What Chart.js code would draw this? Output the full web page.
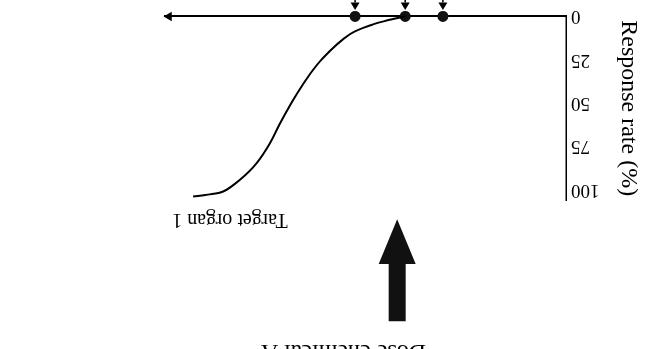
<!DOCTYPE html>
<html>
<head>
<meta charset="utf-8">
<script src="https://cdn.jsdelivr.net/npm/chart.js@4.4.1/dist/chart.umd.min.js"></script>
<style>
  html, body { margin: 0; padding: 0; background: #fff; }
  #wrap { width: 653px; height: 349px; transform: rotate(180deg); }
</style>
</head>
<body>
<div id="wrap"><canvas id="doseChart" width="653" height="349"></canvas></div>
<script>
// dose-response curve for target organ 1 (dose in arbitrary units, 0-100 along the axis)
const doseLevels = [40.1, 43.9, 48.1, 53.9, 60.6, 63.8, 67.1, 71.3, 73.8, 77.1, 81.3, 85.5, 89.3, 93];
const responseRate = [0, 1.9, 4.6, 10.3, 24, 33.1, 44.6, 61.7, 73.1, 84.6, 94.3, 101.1, 102.9, 104];

// reference doses marked on the dose axis, each with a small pointer below it
const markedDoses = [30.7, 40.1, 52.6];
const markerPointer = -6.3;

const responseTicks = [0, 25, 50, 75, 100];

// exposure arrow for chemical A
const exposureDose = 42.1;
const exposureArrow = [176, 142.9, 117.1]; // tail, head base, tip

const curveLabel = 'Target organ 1';
const curveLabelAt = [83.8, 117.4];
const doseLabel = 'Dose chemical A';
const doseLabelAt = [55.5, 189.8];

const serif = "'Liberation Serif', 'Times New Roman', serif";

const annotations = {
  id: 'annotations',
  afterDatasetsDraw(chart) {
    const ctx = chart.ctx;
    const x = chart.scales.x, y = chart.scales.y;
    ctx.save();

    // pointers under the marked doses
    ctx.fillStyle = '#000';
    ctx.strokeStyle = '#000';
    ctx.lineWidth = 1.5;
    markedDoses.forEach(d => {
      const px = x.getPixelForValue(d);
      const py = y.getPixelForValue(markerPointer);
      ctx.beginPath();
      ctx.moveTo(px, py - 4.5);
      ctx.lineTo(px + 4.5, py + 3);
      ctx.lineTo(px - 4.5, py + 3);
      ctx.closePath();
      ctx.fill();
      ctx.beginPath();
      ctx.moveTo(px, py + 3);
      ctx.lineTo(px, py + 7);
      ctx.stroke();
    });

    // big exposure arrow
    const ax = x.getPixelForValue(exposureDose);
    const yTail = y.getPixelForValue(exposureArrow[0]);
    const yBase = y.getPixelForValue(exposureArrow[1]);
    const yTip = y.getPixelForValue(exposureArrow[2]);
    ctx.fillStyle = '#111';
    ctx.beginPath();
    ctx.moveTo(ax - 8.5, yTail);
    ctx.lineTo(ax + 8.5, yTail);
    ctx.lineTo(ax + 8.5, yBase);
    ctx.lineTo(ax + 18.5, yBase);
    ctx.lineTo(ax, yTip);
    ctx.lineTo(ax - 18.5, yBase);
    ctx.lineTo(ax - 8.5, yBase);
    ctx.closePath();
    ctx.fill();

    ctx.fillStyle = '#000';
    ctx.textAlign = 'center';
    ctx.textBaseline = 'middle';
    ctx.font = '20px ' + serif;
    ctx.fillText(curveLabel, x.getPixelForValue(curveLabelAt[0]), y.getPixelForValue(curveLabelAt[1]));

    ctx.textBaseline = 'alphabetic';
    ctx.font = '24px ' + serif;
    ctx.fillText(doseLabel, x.getPixelForValue(doseLabelAt[0]), y.getPixelForValue(doseLabelAt[1]));
    ctx.restore();
  }
};

new Chart(document.getElementById('doseChart'), {
  type: 'line',
  data: {
    datasets: [
      {
        label: curveLabel,
        data: doseLevels.map((d, i) => ({ x: d, y: responseRate[i] })),
        borderColor: '#000',
        borderWidth: 2,
        pointRadius: 0,
        cubicInterpolationMode: 'monotone',
        fill: false,
        clip: false
      },
      {
        label: 'marked doses',
        data: markedDoses.map(d => ({ x: d, y: 0 })),
        showLine: false,
        pointStyle: 'circle',
        pointRadius: 5.5,
        backgroundColor: '#111',
        borderColor: '#111',
        borderWidth: 0,
        clip: false
      },
      {
        label: 'axis arrow',
        data: [{ x: 99, y: 0 }],
        showLine: false,
        pointStyle: 'triangle',
        rotation: 90,
        pointRadius: 5.5,
        backgroundColor: '#000',
        borderColor: '#000',
        borderWidth: 0,
        clip: false
      }
    ]
  },
  options: {
    responsive: false,
    animation: false,
    events: [],
    layout: { padding: { top: 149, right: 165, left: 0, bottom: 0 } },
    plugins: {
      legend: { display: false },
      tooltip: { enabled: false }
    },
    scales: {
      x: {
        type: 'linear',
        min: 0,
        max: 100,
        grid: { display: false, drawTicks: false },
        border: { display: true, color: '#000', width: 2 },
        ticks: { display: false },
        afterFit(scale) { scale.height = 15; }
      },
      y: {
        min: 0,
        max: 106,
        grid: { display: false, drawTicks: false },
        border: { display: true, color: '#000', width: 1.5 },
        afterBuildTicks(scale) { scale.ticks = responseTicks.map(v => ({ value: v })); },
        ticks: {
          color: '#000',
          padding: 5,
          font: { family: serif, size: 19 }
        },
        title: {
          display: true,
          text: 'Response rate (%)',
          color: '#000',
          font: { family: serif, size: 24 },
          padding: { top: 10, bottom: 0 }
        },
        afterFit(scale) { scale.width = 87; }
      }
    }
  },
  plugins: [annotations]
});
</script>
</body>
</html>
